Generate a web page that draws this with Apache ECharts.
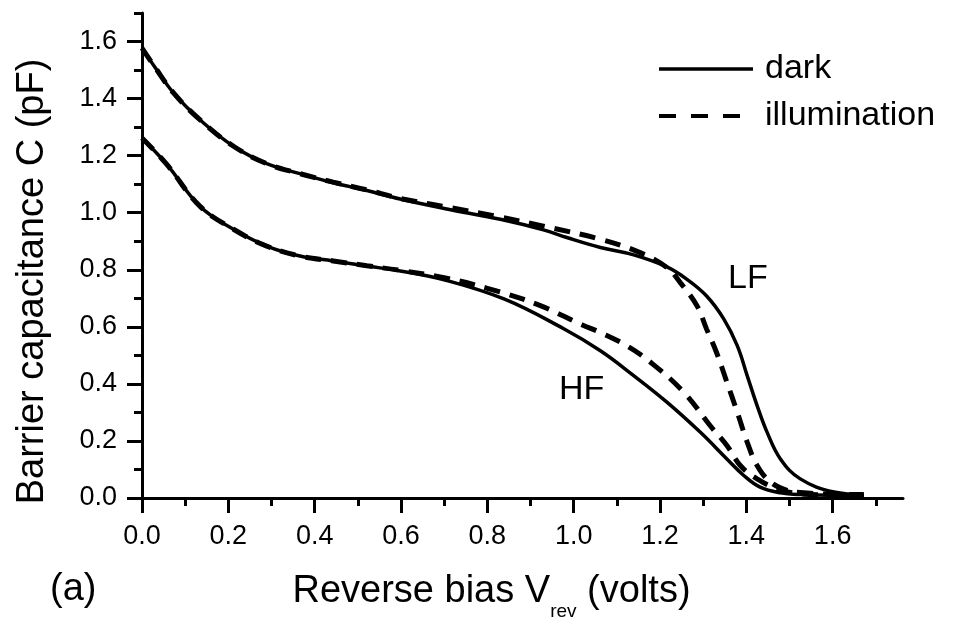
<!DOCTYPE html>
<html>
<head>
<meta charset="utf-8">
<script src="https://cdn.jsdelivr.net/npm/echarts@6/dist/echarts.min.js"></script>
<style>
html,body{margin:0;padding:0;background:#fff;}
#c{width:953px;height:626px;}
</style>
</head>
<body>
<div id="c"></div>
<script>
// ---- data (reverse bias V in volts, capacitance in pF) ----
const lfDarkV  = [0, 0.03, 0.073, 0.134, 0.212, 0.289, 0.366, 0.443, 0.521, 0.598, 0.7, 0.83, 0.93, 0.984, 1.062, 1.139, 1.216, 1.262, 1.308, 1.348, 1.379, 1.402, 1.425, 1.448, 1.479, 1.525, 1.603, 1.672];
const lfDarkC  = [1.577, 1.51, 1.42, 1.326, 1.233, 1.172, 1.137, 1.105, 1.078, 1.048, 1.015, 0.977, 0.94, 0.913, 0.878, 0.852, 0.810, 0.767, 0.708, 0.627, 0.534, 0.429, 0.324, 0.231, 0.137, 0.067, 0.021, 0.012];

const lfIllV   = [0, 0.03, 0.073, 0.134, 0.212, 0.289, 0.366, 0.443, 0.521, 0.598, 0.7, 0.83, 0.93, 1.062, 1.154, 1.216, 1.247, 1.286, 1.308, 1.331, 1.355, 1.379, 1.402, 1.425, 1.456, 1.494, 1.525, 1.6, 1.672];
const lfIllC   = [1.577, 1.51, 1.42, 1.326, 1.233, 1.172, 1.137, 1.107, 1.08, 1.05, 1.022, 0.985, 0.953, 0.907, 0.86, 0.808, 0.755, 0.673, 0.592, 0.51, 0.406, 0.301, 0.196, 0.114, 0.056, 0.027, 0.019, 0.013, 0.012];

const hfDarkV  = [0, 0.057, 0.134, 0.212, 0.289, 0.366, 0.443, 0.521, 0.598, 0.7, 0.84, 0.976, 1.062, 1.139, 1.216, 1.293, 1.355, 1.394, 1.432, 1.479, 1.525, 1.6, 1.672];
const hfDarkC  = [1.262, 1.17, 1.023, 0.942, 0.883, 0.848, 0.831, 0.813, 0.796, 0.765, 0.697, 0.594, 0.516, 0.429, 0.336, 0.231, 0.137, 0.079, 0.038, 0.018, 0.012, 0.01, 0.01];

const hfIllV   = [0, 0.057, 0.134, 0.212, 0.289, 0.366, 0.443, 0.521, 0.598, 0.7, 0.8, 0.917, 1.019, 1.062, 1.123, 1.178, 1.255, 1.316, 1.355, 1.386, 1.425, 1.471, 1.525, 1.6, 1.672];
const hfIllC   = [1.262, 1.17, 1.023, 0.942, 0.883, 0.848, 0.831, 0.814, 0.798, 0.772, 0.735, 0.678, 0.607, 0.58, 0.534, 0.476, 0.371, 0.254, 0.184, 0.114, 0.067, 0.033, 0.015, 0.011, 0.01];

const xMajorTicks = [0, 0.2, 0.4, 0.6, 0.8, 1.0, 1.2, 1.4, 1.6];
const xMinorTicks = [0.1, 0.3, 0.5, 0.7, 0.9, 1.1, 1.3, 1.5, 1.7];
const yMajorTicks = [0, 0.2, 0.4, 0.6, 0.8, 1.0, 1.2, 1.4, 1.6];
const yMinorTicks = [0.1, 0.3, 0.5, 0.7, 0.9, 1.1, 1.3, 1.5, 1.7];

const seriesNames = ['dark', 'illumination'];

// ---- chart ----
const FONT = '"Liberation Sans", Arial, Helvetica, sans-serif';
const zip = (xs, ys) => xs.map((x, i) => [x, ys[i]]);
const chart = echarts.init(document.getElementById('c'), null, {renderer: 'canvas'});

const X_MIN = 0, X_MAX = 1.763, Y_MIN = 0, Y_MAX = 1.7;
const axisLineStyle = {color: '#000', width: 3};

function solid(name, data) {
  return {type: 'line', name, data, xAxisIndex: 0, yAxisIndex: 0, symbol: 'none',
    smooth: 0.4, color: '#000',
    lineStyle: {color: '#000', width: 3.5, type: 'solid'}, z: 3};
}
function dashed(name, data) {
  return {type: 'line', name, data, xAxisIndex: 0, yAxisIndex: 0, symbol: 'none',
    smooth: 0.4, color: '#000',
    lineStyle: {color: '#000', width: 5, type: [16, 10]}, z: 4};
}

chart.setOption({
  animation: false,
  backgroundColor: '#fff',
  textStyle: {fontFamily: FONT, color: '#000'},
  grid: {left: 142, right: 50, top: 13, bottom: 127, containLabel: false},
  legend: {
    orient: 'vertical', left: 652, top: 47, itemWidth: 94, itemHeight: 20, itemGap: 13,
    itemStyle: {opacity: 0},
    textStyle: {fontSize: 34, fontFamily: FONT, color: '#000', padding: [0, 0, 0, 7]},
    data: [
      {name: seriesNames[0], itemStyle: {opacity: 0}, lineStyle: {width: 3.3, type: 'solid', color: '#000'}},
      {name: seriesNames[1], itemStyle: {opacity: 0}, lineStyle: {width: 4, type: [17, 15], color: '#000'}}
    ]
  },
  xAxis: [{
    type: 'value', min: X_MIN, max: X_MAX, position: 'bottom',
    axisLine: {show: true, onZero: false, lineStyle: axisLineStyle},
    axisTick: {show: true, length: 15, lineStyle: axisLineStyle, customValues: xMajorTicks},
    axisLabel: {show: true, customValues: xMajorTicks, margin: 25, fontSize: 27, fontFamily: FONT, color: '#000',
      formatter: v => v.toFixed(1)},
    splitLine: {show: false},
    name: '{m|Reverse bias V}{sub|rev}{m| (volts)}', nameLocation: 'middle', nameGap: 75,
    nameTextStyle: {fontFamily: FONT, color: '#000', padding: [0, 62, 0, 0],
      rich: {
        m: {fontSize: 38, fontFamily: FONT, color: '#000', lineHeight: 38, verticalAlign: 'top'},
        sub: {fontSize: 19, fontFamily: FONT, color: '#000', lineHeight: 19, verticalAlign: 'top', padding: [29, 0, 0, 0]}
      }}
  }, {
    type: 'value', min: X_MIN, max: X_MAX, position: 'bottom',
    axisLine: {show: false, onZero: false},
    axisTick: {show: true, length: 8, lineStyle: axisLineStyle, customValues: xMinorTicks},
    axisLabel: {show: false},
    splitLine: {show: false}
  }],
  yAxis: [{
    type: 'value', min: Y_MIN, max: Y_MAX, position: 'left',
    axisLine: {show: true, onZero: false, lineStyle: axisLineStyle},
    axisTick: {show: true, length: 15, lineStyle: axisLineStyle, customValues: yMajorTicks},
    axisLabel: {show: true, customValues: yMajorTicks, margin: 25, fontSize: 27, fontFamily: FONT, color: '#000',
      formatter: v => v.toFixed(1)},
    splitLine: {show: false},
    name: 'Barrier capacitance C (pF)', nameLocation: 'middle', nameGap: 90, nameRotate: 90,
    nameTextStyle: {fontSize: 38, fontFamily: FONT, color: '#000', padding: [0, 52, 0, 0]}
  }, {
    type: 'value', min: Y_MIN, max: Y_MAX, position: 'left',
    axisLine: {show: false, onZero: false},
    axisTick: {show: true, length: 8, lineStyle: axisLineStyle, customValues: yMinorTicks},
    axisLabel: {show: false},
    splitLine: {show: false}
  }],
  series: [
    solid(seriesNames[0], zip(lfDarkV, lfDarkC)),
    dashed(seriesNames[1], zip(lfIllV, lfIllC)),
    solid(seriesNames[0], zip(hfDarkV, hfDarkC)),
    dashed(seriesNames[1], zip(hfIllV, hfIllC))
  ],
  graphic: [
    {type: 'text', left: 728, top: 262, style: {text: 'LF', fontSize: 34, fontFamily: FONT, fill: '#000'}},
    {type: 'text', left: 559, top: 373, style: {text: 'HF', fontSize: 34, fontFamily: FONT, fill: '#000'}},
    {type: 'text', left: 50, top: 571, style: {text: '(a)', fontSize: 38, fontFamily: FONT, fill: '#000'}}
  ]
});
</script>
</body>
</html>
